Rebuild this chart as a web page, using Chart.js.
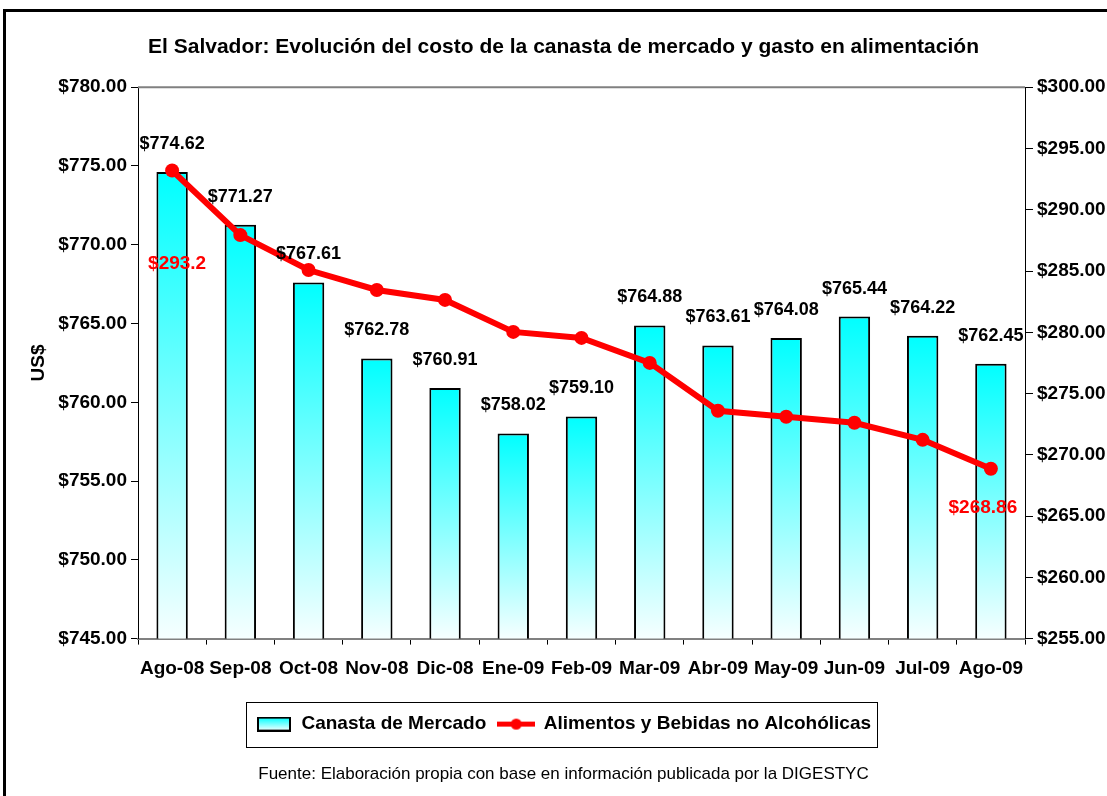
<!DOCTYPE html>
<html>
<head>
<meta charset="utf-8">
<script src="https://cdn.jsdelivr.net/npm/chart.js@4.4.1/dist/chart.umd.min.js"></script>
<style>
  body { margin: 0; background: #fff; overflow: hidden; }
  #frame { position: absolute; left: 3px; top: 9px; width: 1200px; height: 900px;
           border-left: 3px solid #000; border-top: 3px solid #000; pointer-events: none; }
  canvas { position: absolute; left: 0; top: 0; }
</style>
</head>
<body>
<canvas id="chart" width="1107" height="796"></canvas>
<div id="frame"></div>
<script>
const months = ['Ago-08', 'Sep-08', 'Oct-08', 'Nov-08', 'Dic-08', 'Ene-09', 'Feb-09', 'Mar-09', 'Abr-09', 'May-09', 'Jun-09', 'Jul-09', 'Ago-09'];
const canasta = [774.62, 771.27, 767.61, 762.78, 760.91, 758.02, 759.10, 764.88, 763.61, 764.08, 765.44, 764.22, 762.45];
const alimentos = [293.2, 287.93, 285.08, 283.45, 282.64, 280.03, 279.54, 277.50, 273.59, 273.10, 272.61, 271.22, 268.86];

const FONT = "'Liberation Sans', Arial, sans-serif";
const CYAN = '#00FFFF';
const RED = '#FF0000';

function barGradient(ctx2d, top, bottom) {
  const g = ctx2d.createLinearGradient(0, top, 0, bottom);
  g.addColorStop(0, CYAN);
  g.addColorStop(1, '#F6FFFF');
  return g;
}

// legend swatches
const barSwatch = document.createElement('canvas');
barSwatch.width = 34; barSwatch.height = 15;
(function () {
  const c = barSwatch.getContext('2d');
  c.fillStyle = barGradient(c, 1, 14);
  c.fillRect(1, 1, 32, 13);
  c.strokeStyle = '#000'; c.lineWidth = 2;
  c.strokeRect(1, 1, 32, 13);
})();
const lineSwatch = document.createElement('canvas');
lineSwatch.width = 38; lineSwatch.height = 15;
(function () {
  const c = lineSwatch.getContext('2d');
  c.fillStyle = RED;
  c.fillRect(0, 5, 38, 5);
  c.beginPath(); c.arc(19, 7.5, 5.5, 0, Math.PI * 2); c.fill();
})();

const labelPlugin = {
  id: 'valueLabels',
  afterDatasetsDraw(chart) {
    const ctx = chart.ctx;
    ctx.save();
    ctx.textAlign = 'center';
    ctx.textBaseline = 'middle';
    ctx.font = 'bold 18px ' + FONT;
    ctx.fillStyle = '#000';
    chart.getDatasetMeta(0).data.forEach((el, i) => {
      ctx.fillText('$' + canasta[i].toFixed(2), el.x, el.y - 28);
    });
    ctx.fillStyle = RED;
    ctx.font = 'bold 19px ' + FONT;
    const pts = chart.getDatasetMeta(1).data;
    const last = pts.length - 1;
    ctx.fillText('$' + alimentos[0], pts[0].x + 5, pts[0].y + 93);
    ctx.fillText('$' + alimentos[last], pts[last].x - 8, pts[last].y + 39);
    ctx.restore();
  }
};

const framePlugin = {
  id: 'frames',
  beforeDraw(chart) {
    const ctx = chart.ctx;
    ctx.save();
    ctx.fillStyle = '#fff';
    ctx.fillRect(0, 0, chart.width, chart.height);
    ctx.restore();
  },
  afterDraw(chart) {
    const ctx = chart.ctx;
    const a = chart.chartArea;
    ctx.save();
    ctx.strokeStyle = '#808080';
    ctx.lineWidth = 2;
    ctx.beginPath();
    ctx.moveTo(a.left, a.top);
    ctx.lineTo(a.right, a.top);
    ctx.stroke();
    const boxes = chart.legend.legendHitBoxes;
    if (boxes && boxes.length) {
      const l = Math.min(...boxes.map(b => b.left)) - 10;
      const r = Math.max(...boxes.map(b => b.left + b.width)) + 6;
      const t = boxes[0].top - 13;
      const b = boxes[0].top + boxes[0].height + 13;
      ctx.strokeStyle = '#000';
      ctx.lineWidth = 1;
      ctx.strokeRect(Math.round(l) + 0.5, Math.round(t) + 0.5, Math.round(r - l), Math.round(b - t));
    }
    ctx.restore();
  }
};

new Chart(document.getElementById('chart'), {
  data: {
    labels: months,
    datasets: [{
      type: 'bar',
      label: 'Canasta de Mercado',
      data: canasta,
      yAxisID: 'y',
      order: 1,
      backgroundColor: (c) => {
        const chart = c.chart;
        if (!chart.chartArea || c.type !== 'data') return CYAN;
        const top = chart.scales.y.getPixelForValue(c.raw);
        return barGradient(chart.ctx, top, chart.chartArea.bottom);
      },
      borderColor: '#000',
      borderWidth: 2,
      borderSkipped: 'bottom',
      categoryPercentage: 1,
      barPercentage: 0.46
    }, {
      type: 'line',
      label: 'Alimentos y Bebidas no Alcohólicas',
      data: alimentos,
      yAxisID: 'y1',
      order: 0,
      borderColor: RED,
      backgroundColor: RED,
      borderWidth: 6,
      pointRadius: 7,
      pointBackgroundColor: RED,
      pointBorderWidth: 0,
      tension: 0
    }]
  },
  options: {
    responsive: false,
    animation: false,
    layout: { padding: { left: 20, right: 0, top: 0, bottom: 0 } },
    plugins: {
      title: {
        display: true,
        text: 'El Salvador: Evolución del costo de la canasta de mercado y gasto en alimentación',
        color: '#000',
        font: { family: FONT, size: 21, weight: 'bold' },
        padding: { top: 35, bottom: 27 }
      },
      subtitle: {
        display: true,
        position: 'bottom',
        text: 'Fuente: Elaboración propia con base en información publicada por la DIGESTYC',
        color: '#000',
        font: { family: FONT, size: 17, weight: 'normal' },
        padding: { top: 21, bottom: 11 }
      },
      legend: {
        position: 'bottom',
        labels: {
          color: '#000',
          font: { family: FONT, size: 19, weight: 'bold' },
          usePointStyle: true,
          pointStyleWidth: 36,
          padding: 12,
          generateLabels: () => [
            { text: 'Canasta de Mercado', pointStyle: barSwatch, fontColor: '#000', datasetIndex: 0, hidden: false, lineWidth: 0 },
            { text: 'Alimentos y Bebidas no Alcohólicas', pointStyle: lineSwatch, fontColor: '#000', datasetIndex: 1, hidden: false, lineWidth: 0 }
          ]
        }
      },
      tooltip: { enabled: false }
    },
    scales: {
      x: {
        offset: true,
        afterFit: (s) => { s.height = 64; },
        grid: { offset: true, drawOnChartArea: false, tickLength: 6, color: '#808080', tickColor: '#000' },
        border: { color: '#808080', width: 2 },
        ticks: { color: '#000', padding: 13, maxRotation: 0, autoSkip: false,
                 font: { family: FONT, size: 19, weight: 'bold' } }
      },
      y: {
        position: 'left',
        min: 745, max: 780,
        afterFit: (s) => { s.width = 118; },
        grid: { drawOnChartArea: false, tickLength: 7, tickColor: '#000' },
        border: { color: '#000', width: 1 },
        ticks: { stepSize: 5, color: '#000', padding: 4, font: { family: FONT, size: 19, weight: 'bold' },
                 callback: (v) => '$' + v.toFixed(2) },
        title: { display: true, text: 'US$', color: '#000', padding: { top: 7, bottom: 0 },
                 font: { family: FONT, size: 19, weight: 'bold' } }
      },
      y1: {
        position: 'right',
        min: 255, max: 300,
        afterFit: (s) => { s.width = 82; },
        grid: { drawOnChartArea: false, tickLength: 8, tickColor: '#000' },
        border: { color: '#000', width: 1 },
        ticks: { stepSize: 5, color: '#000', padding: 4, font: { family: FONT, size: 19, weight: 'bold' },
                 callback: (v) => '$' + v.toFixed(2) }
      }
    }
  },
  plugins: [labelPlugin, framePlugin]
});
</script>
</body>
</html>
